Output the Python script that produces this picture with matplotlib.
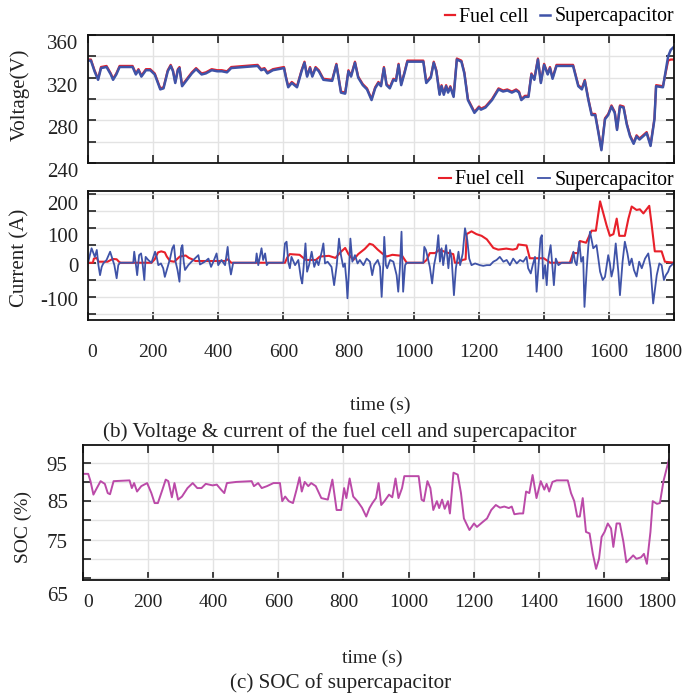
import matplotlib
matplotlib.use('Agg')
import matplotlib.pyplot as plt
from matplotlib.transforms import ScaledTranslation

plt.rcParams['font.family'] = ['Liberation Serif', 'DejaVu Serif']

# --- voltage (V) ---
t_v = [0, 9, 20, 31, 40, 57, 70, 77, 87, 97, 137, 147, 155, 164, 178, 191, 205, 222, 232, 245,
       254, 261, 268, 276, 281, 289, 299, 319, 332, 349, 362, 380, 397, 411, 427, 440, 481, 521, 532, 542,
       551, 568, 602, 608, 615, 626, 642, 656, 665, 673, 682, 689, 699, 709, 723, 750, 763, 777, 790, 800,
       808, 820, 830, 844, 857, 871, 882, 892, 900, 909, 917, 927, 938, 946, 954, 962, 972, 981, 1030, 1039,
       1053, 1062, 1070, 1080, 1086, 1093, 1100, 1106, 1113, 1123, 1133, 1147, 1156, 1167, 1187, 1201, 1207, 1221, 1241, 1261,
       1275, 1288, 1302, 1315, 1324, 1331, 1342, 1353, 1362, 1371, 1382, 1391, 1401, 1412, 1419, 1427, 1439, 1456, 1490, 1506,
       1517, 1526, 1537, 1547, 1558, 1568, 1577, 1588, 1598, 1608, 1618, 1625, 1634, 1645, 1655, 1665, 1676, 1685, 1694, 1705,
       1716, 1728, 1740, 1745, 1766, 1782, 1790, 1800]
sc_v = [336, 336, 326, 318, 329, 330, 323, 318, 323, 330, 330, 323, 327, 321, 327, 327, 323, 309, 310, 326,
        331, 326, 315, 327, 329, 312, 316, 324, 328, 323, 324, 327, 326, 326, 325, 329, 330, 331, 327, 328,
        324, 327, 329, 320, 311, 315, 311, 326, 334, 321, 329, 321, 329, 326, 318, 317, 332, 306, 305, 326,
        321, 334, 320, 313, 309, 299, 310, 315, 312, 329, 313, 310, 318, 317, 332, 313, 324, 335, 335, 315,
        320, 334, 326, 304, 312, 304, 312, 306, 311, 302, 337, 335, 324, 299, 287, 292, 290, 292, 299, 309,
        307, 308, 306, 308, 306, 299, 302, 302, 323, 318, 337, 315, 332, 323, 329, 319, 331, 331, 331, 312,
        309, 317, 299, 285, 285, 268, 252, 281, 285, 293, 287, 271, 293, 292, 276, 265, 258, 265, 262, 265,
        268, 256, 281, 312, 311, 340, 346, 349]
fc_v = [337, 337, 327, 319, 330, 331, 324, 319, 324, 331, 331, 324, 328, 322, 328, 328, 324, 310, 311, 327,
        332, 327, 316, 328, 330, 313, 317, 325, 329, 324, 325, 328, 327, 327, 326, 330, 331, 332, 328, 329,
        325, 328, 330, 321, 312, 316, 312, 327, 335, 322, 330, 322, 330, 327, 319, 318, 333, 307, 306, 327,
        322, 335, 321, 314, 310, 300, 311, 316, 313, 330, 314, 311, 319, 318, 333, 314, 325, 336, 336, 316,
        321, 335, 327, 305, 313, 305, 313, 307, 312, 303, 338, 336, 325, 300, 288, 293, 291, 293, 300, 310,
        308, 309, 307, 309, 307, 300, 303, 303, 324, 319, 338, 316, 333, 324, 330, 320, 332, 332, 332, 313,
        310, 318, 300, 286, 286, 269, 253, 282, 286, 294, 288, 272, 294, 293, 277, 266, 259, 266, 263, 266,
        269, 257, 282, 313, 312, 336, 337, 337]

# --- fuel cell current (A) ---
t_ifc = [0, 15, 18, 27, 32, 60, 70, 75, 88, 95, 100, 195, 205, 215, 225, 236, 242, 252, 265, 282,
         300, 310, 320, 330, 420, 430, 440, 605, 612, 620, 650, 660, 670, 700, 712, 740, 760, 775, 790, 800,
         815, 830, 850, 865, 875, 890, 905, 917, 935, 965, 979, 1030, 1040, 1050, 1066, 1080, 1100, 1122, 1127, 1140,
         1150, 1160, 1163, 1178, 1193, 1209, 1225, 1245, 1260, 1285, 1305, 1317, 1322, 1347, 1357, 1380, 1400, 1420, 1480, 1490,
         1505, 1511, 1530, 1547, 1560, 1573, 1583, 1593, 1603, 1614, 1624, 1632, 1649, 1660, 1670, 1685, 1695, 1706, 1724, 1731,
         1741, 1762, 1772, 1800]
fc_i = [0, 0, 12, 14, 3, 3, 8, 11, 10, 3, 0, 0, 10, 30, 33, 30, 18, 5, 3, 18,
        21, 14, 10, 5, 5, 10, 0, 0, 15, 25, 23, 15, 8, 8, 18, 20, 14, 30, 43, 25,
        8, 25, 40, 55, 52, 38, 26, 18, 23, 20, 0, 0, 8, 28, 28, 38, 30, 25, 0, 0,
        8, 10, 83, 91, 83, 78, 68, 43, 38, 41, 38, 41, 53, 50, 13, 13, 13, 0, 0, 28,
        28, 63, 58, 93, 93, 178, 143, 108, 78, 83, 128, 78, 78, 128, 163, 153, 155, 143, 165, 113,
        33, 33, 3, 0]

# --- supercapacitor current (A) ---
t_isc = [0, 11, 21, 27, 32, 37, 42, 47, 57, 68, 73, 81, 88, 93, 98, 139, 142, 146, 151, 157,
         163, 167, 173, 177, 185, 195, 206, 211, 216, 224, 231, 236, 242, 252, 259, 264, 269, 275, 281, 286,
         290, 294, 298, 308, 318, 339, 344, 359, 370, 378, 385, 395, 400, 410, 421, 429, 433, 439, 446, 515,
         518, 523, 533, 538, 544, 549, 554, 600, 605, 610, 615, 620, 625, 636, 646, 654, 658, 662, 668, 673,
         679, 687, 695, 702, 708, 718, 723, 728, 736, 748, 756, 764, 771, 777, 784, 789, 794, 797, 802, 806,
         812, 820, 828, 835, 846, 856, 866, 873, 879, 890, 897, 902, 907, 910, 915, 919, 928, 938, 948, 953,
         958, 963, 968, 974, 979, 1030, 1033, 1038, 1045, 1050, 1057, 1063, 1071, 1076, 1081, 1086, 1091, 1100, 1107, 1112,
         1117, 1124, 1130, 1138, 1143, 1151, 1158, 1165, 1171, 1178, 1189, 1204, 1214, 1225, 1235, 1245, 1255, 1265, 1276, 1286,
         1296, 1306, 1317, 1327, 1337, 1347, 1352, 1360, 1366, 1373, 1378, 1384, 1390, 1394, 1398, 1404, 1409, 1414, 1421, 1427,
         1431, 1437, 1445, 1455, 1486, 1491, 1496, 1501, 1509, 1515, 1521, 1525, 1532, 1537, 1542, 1552, 1562, 1573, 1581, 1588,
         1598, 1603, 1608, 1614, 1621, 1629, 1634, 1642, 1649, 1657, 1663, 1670, 1677, 1685, 1693, 1701, 1711, 1721, 1728, 1736,
         1747, 1755, 1762, 1769, 1775, 1782, 1787, 1800]
sc_i = [0, 42, 17, 37, -7, -36, -12, -2, 8, 32, 17, -7, -45, -7, 0, 0, 32, 3, -36, 22,
        27, 3, -50, 17, 8, 0, 32, 17, -7, -2, -16, -41, -21, 12, 42, 51, 3, -21, -55, 42,
        51, 3, -21, -7, 3, 22, -5, 3, 12, -12, 3, 27, -7, 8, -7, 46, 3, -34, 0, 0,
        27, -7, 42, 8, 27, -7, 0, 0, 56, 61, 3, -16, 17, -7, 8, -45, -60, -16, 56, -26,
        -7, 32, -12, 8, -7, 32, 56, -2, 3, -12, -65, -7, 70, 22, -12, -2, -55, -103, -16, 70,
        3, 22, -2, 8, -7, 12, 3, -36, -7, 8, -12, -99, -7, 75, -7, -16, 8, 3, -36, -84,
        -16, 90, -84, -7, 0, 0, 46, 37, 8, -12, -60, -7, 32, 80, 3, 42, -7, 51, -16, 37,
        12, -94, -16, 32, -7, 27, 100, 66, 12, -7, -2, -7, -9, -7, -7, 3, 8, 17, 3, 8,
        -7, 12, -2, 8, 3, 17, -16, -31, -7, 17, -84, -7, 71, 80, -46, -7, -65, 12, 51, -16,
        -65, 12, -7, 0, 0, 32, 3, -7, 61, 3, 17, -128, -16, 51, 90, 42, 51, -26, -50, -41,
        22, -2, -40, -16, 56, -26, -94, 3, 61, 27, -7, 12, -21, -40, 3, -16, 12, 27, -16, -118,
        -36, -2, -7, -50, -36, -26, -12, 0]

# --- supercapacitor SOC (%) ---
t_soc = [0, 16, 23, 32, 40, 54, 67, 76, 83, 94, 143, 150, 157, 166, 179, 197, 210, 220, 230, 244,
         254, 262, 273, 281, 292, 304, 321, 337, 351, 364, 377, 398, 411, 424, 434, 442, 471, 518, 525, 538,
         549, 565, 585, 605, 612, 621, 632, 645, 656, 665, 672, 681, 692, 701, 715, 732, 752, 766, 779, 793,
         802, 809, 819, 830, 843, 857, 870, 880, 889, 900, 908, 916, 926, 940, 950, 960, 969, 980, 987, 1031,
         1040, 1047, 1058, 1067, 1076, 1087, 1094, 1103, 1111, 1121, 1127, 1138, 1151, 1161, 1170, 1187, 1201, 1210, 1228, 1241,
         1254, 1268, 1281, 1294, 1308, 1317, 1325, 1341, 1352, 1361, 1371, 1381, 1393, 1406, 1417, 1424, 1432, 1442, 1455, 1489,
         1499, 1509, 1518, 1526, 1535, 1545, 1556, 1566, 1576, 1585, 1593, 1602, 1612, 1622, 1629, 1639, 1649, 1660, 1669, 1680,
         1690, 1700, 1714, 1723, 1732, 1743, 1750, 1763, 1772, 1783, 1800]
soc = [92.1, 92.1, 90.2, 86.7, 88.0, 90.2, 89.5, 87.1, 86.8, 90.2, 90.4, 88.4, 89.7, 87.5, 88.9, 89.7, 87.1, 84.5, 84.5, 88.0,
       90.6, 90.2, 86.0, 89.7, 85.4, 86.2, 88.4, 89.7, 88.4, 88.4, 89.5, 89.1, 89.3, 88.0, 87.1, 89.7, 90.0, 90.2, 88.9, 89.7,
       88.4, 88.9, 89.7, 89.7, 85.0, 86.2, 85.0, 84.5, 88.0, 91.2, 87.5, 90.0, 88.9, 89.7, 88.9, 85.8, 85.4, 90.6, 82.7, 82.7,
       88.4, 85.8, 90.9, 86.2, 85.0, 83.3, 81.0, 83.2, 84.5, 85.8, 89.7, 84.0, 85.0, 86.7, 86.0, 90.9, 85.8, 88.4, 91.5, 91.5,
       85.4, 85.0, 90.2, 88.4, 82.7, 85.0, 83.2, 85.4, 83.0, 85.0, 81.8, 92.4, 91.9, 87.1, 80.5, 77.5, 79.2, 78.3, 79.6, 80.5,
       82.7, 84.0, 83.3, 83.6, 83.2, 83.6, 81.6, 81.8, 81.8, 87.5, 87.1, 91.8, 85.8, 90.2, 88.0, 89.5, 87.5, 90.0, 90.4, 90.4,
       87.1, 85.0, 81.0, 81.0, 85.8, 77.0, 76.6, 71.3, 67.4, 70.0, 75.7, 77.0, 79.2, 77.9, 73.1, 79.2, 79.2, 74.4, 69.1, 70.0,
       70.9, 70.0, 70.4, 71.3, 68.7, 77.0, 85.0, 84.3, 84.5, 90.2, 95.9]

x_ticks = list(range(0, 1801, 200))
v_ticks = list(range(240, 361, 20))
v_labels = ['240', '', '280', '', '320', '', '360']
i_ticks = list(range(-150, 201, 50))
i_labels = ['', '-100', '', '0', '', '100', '', '200']
soc_ticks = list(range(65, 96, 5))
soc_labels = ['65', '', '75', '', '85', '', '95']

red = '#e8202a'
blue = '#3f53a8'
purple = '#bb4aa8'
gridc = '#e3e3e3'


def style(ax, yt, yl, ylim):
    ax.set_xlim(0, 1800)
    ax.set_ylim(*ylim)
    ax.set_xticks(x_ticks)
    ax.set_yticks(yt)
    ax.set_yticklabels(yl)
    ax.grid(True, color=gridc, lw=1.0)
    ax.set_axisbelow(True)
    ax.tick_params(direction='in', length=6, width=1.2, top=True, right=True,
                   labelsize=14, colors='#222222')
    ax.tick_params(axis='y', labelsize=15)
    for s in ax.spines.values():
        s.set_linewidth(1.3)
        s.set_color('#111111')


def shift(lab, dx, dy):
    lab.set_transform(lab.get_transform() + ScaledTranslation(dx / 100, -dy / 100, fig.dpi_scale_trans))


fig = plt.figure(figsize=(6.85, 6.93), dpi=100)

# voltage
ax1 = fig.add_axes([88 / 685, 1 - 163 / 693, 586 / 685, 128 / 693])
ax1.plot(t_v, fc_v, color=red, lw=1.6, label='Fuel cell')
ax1.plot(t_v, sc_v, color=blue, lw=1.8, label='Supercapacitor')
style(ax1, v_ticks, v_labels, (240, 360))
ax1.tick_params(axis='x', labelbottom=False)
ax1.tick_params(axis='y', pad=7)
ax1.legend(loc='center right', bbox_to_anchor=(1.0, 1 + 18 / 128), frameon=False, ncol=2,
           fontsize=14.3, handlelength=0.5, handletextpad=0.2, columnspacing=0.6,
           borderpad=0, borderaxespad=0)
for lab in ax1.get_yticklabels():
    shift(lab, 0, 7)

# current
ax2 = fig.add_axes([88 / 685, 1 - 320 / 693, 586 / 685, 129 / 693])
ax2.plot(t_ifc, fc_i, color=red, lw=1.5, label='Fuel cell')
ax2.plot(t_isc, sc_i, color=blue, lw=1.3, label='Supercapacitor')
style(ax2, i_ticks, i_labels, (-166, 208))
ax2.tick_params(axis='x', pad=17)
ax2.tick_params(axis='y', pad=7)
ax2.legend(loc='center right', bbox_to_anchor=(1.0, 1 + 11 / 129), frameon=False, ncol=2,
           fontsize=14.3, handlelength=0.6, handletextpad=0.2, columnspacing=0.7,
           borderpad=0, borderaxespad=0)
for lab, d in zip(ax2.get_yticklabels(), [0, 2, 0, 2, 0, 7, 0, 9]):
    shift(lab, 0, d)
xl = ax2.get_xticklabels()
shift(xl[0], 4, 0)
shift(xl[-1], -11, 0)

# SOC
ax3 = fig.add_axes([83 / 685, 1 - 580 / 693, 586 / 685, 135 / 693])
ax3.plot(t_soc, soc, color=purple, lw=1.4)
style(ax3, soc_ticks, soc_labels, (64.5, 99.6))
ax3.tick_params(axis='x', pad=10)
ax3.tick_params(axis='y', pad=11)
for lab, d in zip(ax3.get_yticklabels(), [16, 0, 1, 0, 0, 0, 1]):
    shift(lab, 0, d)
xl = ax3.get_xticklabels()
shift(xl[0], 5, 0)
shift(xl[-1], -12, 0)

tc = '#222222'
fig.text(20 / 685, 1 - 95 / 693, 'Voltage(V)', rotation=90, ha='center', va='center', fontsize=15, color=tc)
fig.text(20 / 685, 1 - 258 / 693, 'Current (A)', rotation=90, ha='center', va='center', fontsize=15, color=tc)
fig.text(23 / 685, 1 - 527 / 693, 'SOC (%)', rotation=90, ha='center', va='center', fontsize=14, color=tc)
fig.text(380 / 685, 1 - 405 / 693, 'time (s)', ha='center', va='center', fontsize=14, color=tc)
fig.text(340 / 685, 1 - 432 / 693, '(b) Voltage & current of the fuel cell and supercapacitor',
         ha='center', va='center', fontsize=15.2, color=tc)
fig.text(372 / 685, 1 - 658 / 693, 'time (s)', ha='center', va='center', fontsize=14, color=tc)
fig.text(341 / 685, 1 - 683 / 693, '(c) SOC of supercapacitor', ha='center', va='center', fontsize=15.2, color=tc)

fig.savefig('out.png', dpi=100)
